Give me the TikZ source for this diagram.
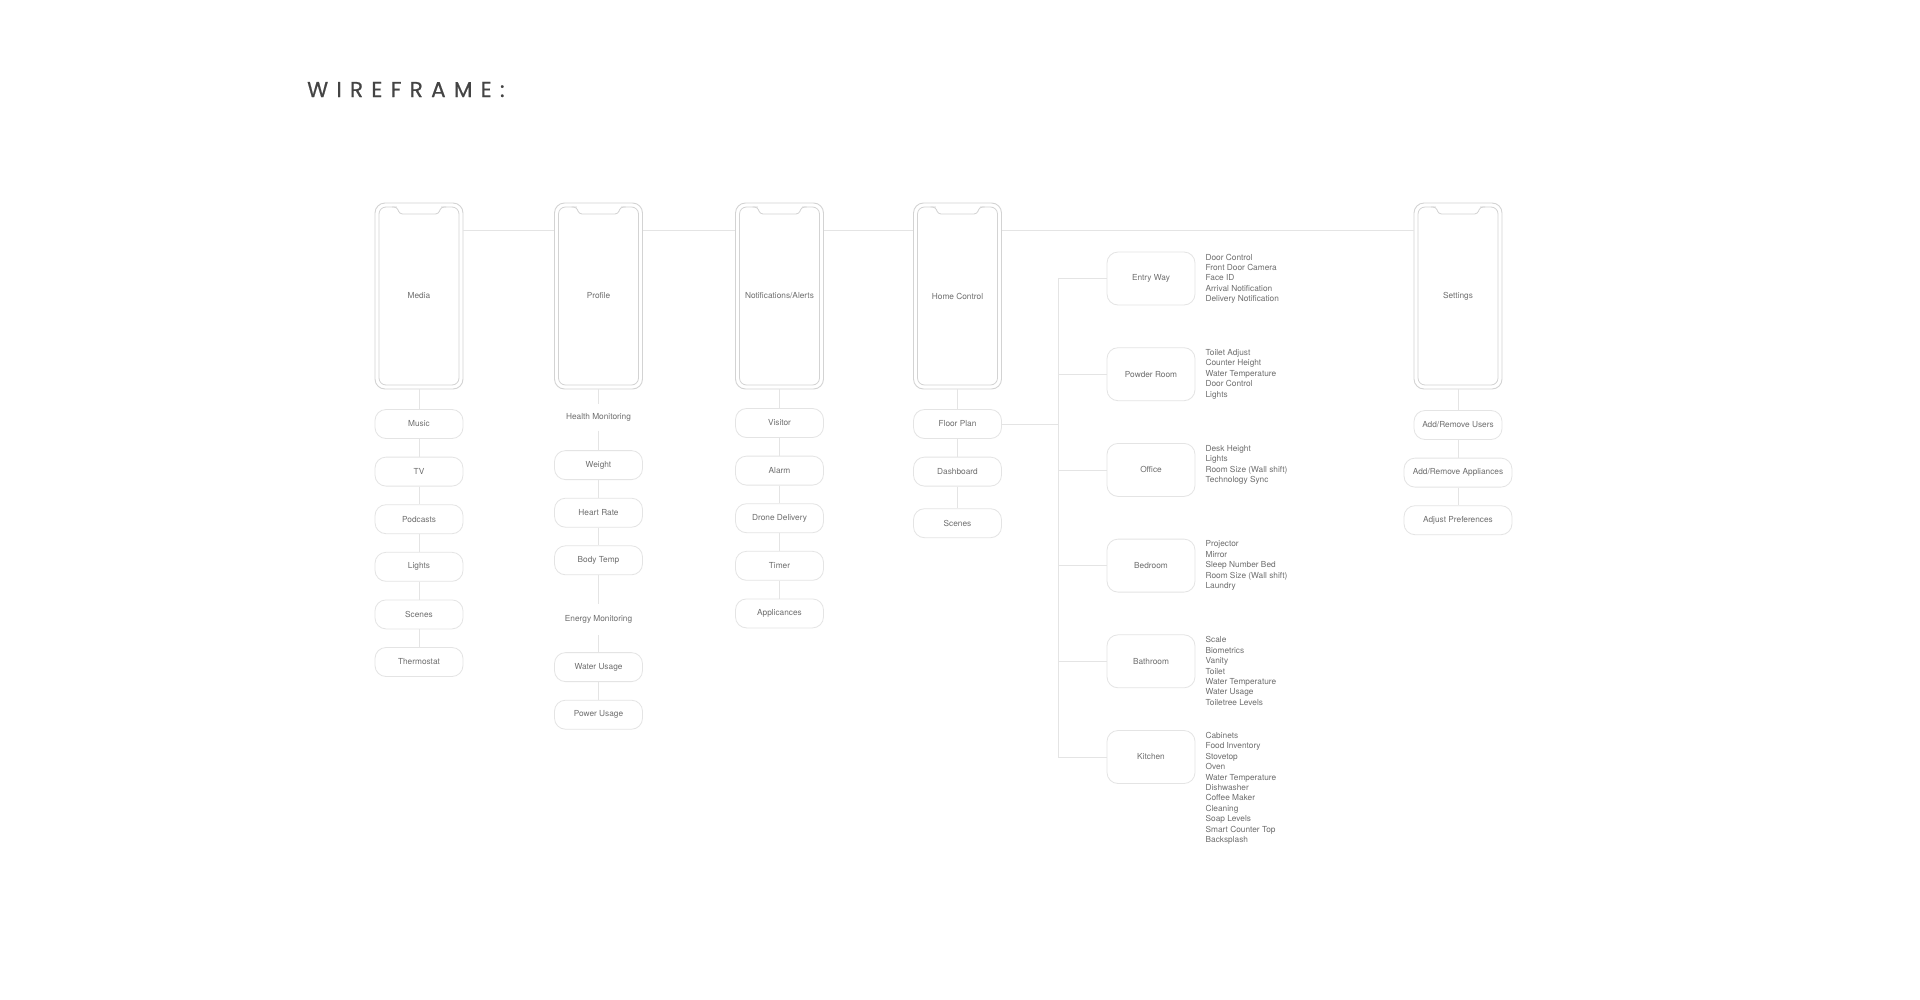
\documentclass[tikz,border=0pt]{standalone}
\usepackage{fontspec}
\setmainfont{TeX Gyre Heros}
\newfontfamily\titlefont[LetterSpace=38.5,FakeBold=0.6]{Poppins}
\usepackage{tikz}
\usetikzlibrary{positioning}
\definecolor{wire}{HTML}{D3D3D3}
\definecolor{edgeline}{HTML}{E4E4E4}
\definecolor{txt}{HTML}{6E6E6E}
\definecolor{ttl}{HTML}{444444}
\tikzstyle{phone}=[draw=wire,line width=0.9pt,fill=white,rounded corners=10pt,
  minimum width=88pt,minimum height=186pt,node distance=179.5pt,text=txt,
  path picture={
    \draw[wire,line width=0.8pt,rounded corners=7pt]
      ([shift={(4pt,4pt)}]path picture bounding box.south west) rectangle
      ([shift={(-4pt,-4pt)}]path picture bounding box.north east);
    \fill[white,sharp corners] ([shift={(-22pt,-2.5pt)}]path picture bounding box.north) rectangle
      ([shift={(22pt,-5.5pt)}]path picture bounding box.north);
    \draw[wire,line width=0.8pt,rounded corners=3pt]
      ([shift={(-27pt,-4pt)}]path picture bounding box.north) -- ++(5pt,0pt)
      -- ++(2.5pt,-7pt) -- ++(39pt,0pt) -- ++(2.5pt,7pt) -- ++(5pt,0pt);
  }]
\tikzstyle{item}=[draw=edgeline,line width=0.8pt,fill=white,rounded corners=11pt,
  minimum width=88pt,minimum height=29pt,text=txt]
\tikzstyle{wide}=[item,minimum width=108pt]
\tikzstyle{room}=[item,minimum height=53pt,node distance=95.7pt]
\tikzstyle{note}=[text=txt,minimum height=26pt]
\tikzstyle{lst}=[anchor=north west,align=left,inner sep=0pt,text=txt]
\tikzstyle{conn}=[draw=edgeline,line width=0.8pt]

\begin{document}
\begin{tikzpicture}[x=1pt,y=-1pt,node distance=47.6pt,font=\fontsize{8.3}{10.4}\selectfont]
  \useasboundingbox[fill=white] (0,0) rectangle (1920,999);

  \node[anchor=base west,inner sep=0pt,text=ttl,font=\titlefont\fontsize{21.5}{24}\selectfont]
    (title) at (307,97) {WIREFRAME:};

  % phones
  \node[phone] (media) at (419,296) {Media};
  \node[phone] (profile) [right of=media] {Profile};
  \node[phone] (notif) [right of=profile,xshift=1.5pt] {Notifications/Alerts};
  \node[phone] (home) [right of=notif,xshift=-1.5pt] {Home Control};
  \node[phone] (settings) [right of=home,xshift=321pt] {Settings};

  \path[conn] ([yshift=-28pt]media.north east) edge ([yshift=-28pt]profile.north west);
  \path[conn] ([yshift=-28pt]profile.north east) edge ([yshift=-28pt]notif.north west);
  \path[conn] ([yshift=-28pt]notif.north east) edge ([yshift=-28pt]home.north west);
  \path[conn] ([yshift=-28pt]home.north east) edge ([yshift=-28pt]settings.north west);

  % media
  \node[item] (music) [below of=media,yshift=-80.4pt] {Music};
  \path[conn] (media) edge (music);
  \node[item] (tv) [below of=music] {TV};
  \path[conn] (music) edge (tv);
  \node[item] (podcasts) [below of=tv] {Podcasts};
  \path[conn] (tv) edge (podcasts);
  \node[item] (lights) [below of=podcasts] {Lights};
  \path[conn] (podcasts) edge (lights);
  \node[item] (mscenes) [below of=lights] {Scenes};
  \path[conn] (lights) edge (mscenes);
  \node[item] (thermo) [below of=mscenes] {Thermostat};
  \path[conn] (mscenes) edge (thermo);

  % profile
  \node[note] (health) [below of=profile,yshift=-73.9pt] {Health Monitoring};
  \path[conn] (profile) edge (health);
  \node[item] (weight) [below of=health] {Weight};
  \path[conn] (health) edge (weight);
  \node[item] (heart) [below of=weight] {Heart Rate};
  \path[conn] (weight) edge (heart);
  \node[item] (temp) [below of=heart] {Body Temp};
  \path[conn] (heart) edge (temp);
  \node[note,minimum height=31pt] (energy) [below of=temp,yshift=-11.6pt] {Energy Monitoring};
  \path[conn] (temp) edge (energy);
  \node[item] (water) [below of=energy] {Water Usage};
  \path[conn] (energy) edge (water);
  \node[item] (power) [below of=water] {Power Usage};
  \path[conn] (water) edge (power);

  % notifications
  \node[item] (visitor) [below of=notif,yshift=-79.4pt] {Visitor};
  \path[conn] (notif) edge (visitor);
  \node[item] (alarm) [below of=visitor] {Alarm};
  \path[conn] (visitor) edge (alarm);
  \node[item] (drone) [below of=alarm] {Drone Delivery};
  \path[conn] (alarm) edge (drone);
  \node[item] (timer) [below of=drone] {Timer};
  \path[conn] (drone) edge (timer);
  \node[item] (appl) [below of=timer] {Applicances};
  \path[conn] (timer) edge (appl);

  % home control
  \node[item] (floorplan) [below of=home,yshift=-80.4pt] {Floor Plan};
  \path[conn] (home) edge (floorplan);
  \node[item] (dash) [below of=floorplan] {Dashboard};
  \path[conn] (floorplan) edge (dash);
  \node[item] (hscenes) [below of=dash,yshift=-4pt] {Scenes};
  \path[conn] (dash) edge (hscenes);

  % rooms
  \coordinate (trunk) at (1058,424);
  \path[conn] (floorplan) edge (floorplan -| trunk);

  \node[room] (entry) at (1151,278.5) {Entry Way};
  \node[room] (powder) [below of=entry] {Powder Room};
  \node[room] (office) [below of=powder] {Office};
  \node[room] (bedroom) [below of=office] {Bedroom};
  \node[room] (bathroom) [below of=bedroom] {Bathroom};
  \node[room] (kitchen) [below of=bathroom] {Kitchen};

  \path[conn] (entry -| trunk) edge (kitchen -| trunk);
  \path[conn] (entry -| trunk) edge (entry);
  \path[conn] (powder -| trunk) edge (powder);
  \path[conn] (office -| trunk) edge (office);
  \path[conn] (bedroom -| trunk) edge (bedroom);
  \path[conn] (bathroom -| trunk) edge (bathroom);
  \path[conn] (kitchen -| trunk) edge (kitchen);

  \node[lst] (entrylst) at ([shift={(10pt,-2pt)}]entry.north east)
    {Door Control\\Front Door Camera\\Face ID\\Arrival Notification\\Delivery Notification};
  \node[lst] (powderlst) at ([shift={(10pt,-2pt)}]powder.north east)
    {Toilet Adjust\\Counter Height\\Water Temperature\\Door Control\\Lights};
  \node[lst] (officelst) at ([shift={(10pt,-2pt)}]office.north east)
    {Desk Height\\Lights\\Room Size (Wall shift)\\Technology Sync};
  \node[lst] (bedroomlst) at ([shift={(10pt,-2pt)}]bedroom.north east)
    {Projector\\Mirror\\Sleep Number Bed\\Room Size (Wall shift)\\Laundry};
  \node[lst] (bathroomlst) at ([shift={(10pt,-2pt)}]bathroom.north east)
    {Scale\\Biometrics\\Vanity\\Toilet\\Water Temperature\\Water Usage\\Toiletree Levels};
  \node[lst] (kitchenlst) at ([shift={(10pt,-2pt)}]kitchen.north east)
    {Cabinets\\Food Inventory\\Stovetop\\Oven\\Water Temperature\\Dishwasher\\Coffee Maker\\Cleaning\\Soap Levels\\Smart Counter Top\\Backsplash};

  % settings
  \node[item] (users) [below of=settings,yshift=-81.4pt] {Add/Remove Users};
  \path[conn] (settings) edge (users);
  \node[wide] (appliances) [below of=users] {Add/Remove Appliances};
  \path[conn] (users) edge (appliances);
  \node[wide] (prefs) [below of=appliances] {Adjust Preferences};
  \path[conn] (appliances) edge (prefs);
\end{tikzpicture}
\end{document}
